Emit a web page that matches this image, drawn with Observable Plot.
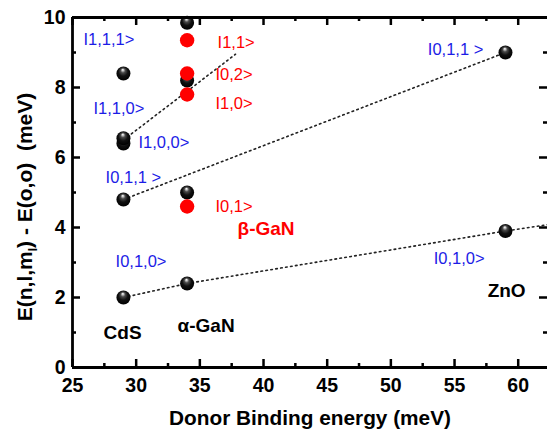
<!DOCTYPE html>
<html><head><meta charset="utf-8">
<script src="https://cdn.jsdelivr.net/npm/d3@7"></script>
<script src="https://cdn.jsdelivr.net/npm/@observablehq/plot@0.6"></script>
<style>body{margin:0;background:#fff;overflow:hidden;font-family:"Liberation Sans",Arial,sans-serif}</style>
</head><body><div id="chart"></div>
<script>
// Data (meV)
const blackX = [29, 29, 29, 29, 29, 34, 34, 34, 34, 59, 59];
const blackY = [2.0, 4.8, 6.4, 6.55, 8.4, 2.4, 5.0, 8.2, 9.85, 3.9, 9.0];
const redX = [34, 34, 34, 34];
const redY = [4.6, 7.8, 8.4, 9.35];

// dotted guide lines
const line1X = [29, 37.8], line1Y = [6.5, 8.95];
const line2X = [29, 59], line2Y = [4.8, 9.0];
const line3X = [29, 34, 59, 62.3], line3Y = [2.0, 2.4, 3.9, 4.08];

// state labels
const blueText = ["I1,1,1>", "I1,1,0>", "I1,0,0>", "I0,1,1 >", "I0,1,0>", "I0,1,1 >", "I0,1,0>"];
const blueX = [25.86, 26.65, 30.18, 27.6, 28.38, 52.9, 53.36];
const blueY = [9.37, 7.4, 6.43, 5.43, 3.03, 9.09, 3.11];
const redText = ["I1,1>", "I0,2>", "I1,0>", "I0,1>"];
const redLX = [36.39, 36.23, 36.23, 36.23];
const redLY = [9.29, 8.37, 7.54, 4.6];
const matText = ["CdS", "α-GaN", "ZnO"];
const matX = [27.44, 33.25, 57.6];
const matY = [1.0, 1.2, 2.2];
const betaText = ["β-GaN"], betaX = [37.96], betaY = [3.97];

// ticks
const xMajor = [25, 30, 35, 40, 45, 50, 55, 60];
const xMinor = [27.5, 32.5, 37.5, 42.5, 47.5, 52.5, 57.5];
const yMajor = [0, 2, 4, 6, 8, 10];
const yMinor = [1, 3, 5, 7, 9];

const xMax = 62.3, yMax = 10, xMin = 25, yMin = 0;
const pxX = (xMax - xMin) / 475, pxY = (yMax - yMin) / 350; // data units per pixel

const zip = (xs, ys, extra = {}) => xs.map((x, i) => ({x, y: ys[i], ...Object.fromEntries(Object.entries(extra).map(([k, v]) => [k, v[i]]))}));
const blacks = zip(blackX, blackY);
const reds = zip(redX, redY);
const l1 = zip(line1X, line1Y), l2 = zip(line2X, line2Y), l3 = zip(line3X, line3Y);
const blueL = zip(blueX, blueY, {t: blueText});
const redL = zip(redLX, redLY, {t: redText});
const matL = zip(matX, matY, {t: matText});
const betaL = zip(betaX, betaY, {t: betaText});

const dotted = {x: "x", y: "y", stroke: "#222", strokeWidth: 1.6, strokeDasharray: "1.6,3.4", strokeLinecap: "round"};
const tickW = 2.5;
const plot = Plot.plot({
  width: 547, height: 431,
  marginLeft: 72, marginRight: 0, marginTop: 17, marginBottom: 64,
  style: {fontFamily: "'Liberation Sans', Arial, sans-serif", background: "#fff"},
  x: {domain: [xMin, xMax]},
  y: {domain: [yMin, yMax]},
  marks: [
    Plot.line(l1, dotted),
    Plot.line(l2, dotted),
    Plot.line(l3, dotted),
    Plot.dot(blacks, {x: "x", y: "y", r: 7, fill: "url(#sphere)", stroke: "none"}),
    Plot.dot(reds, {x: "x", y: "y", r: 7.2, fill: "#ff0000", stroke: "none"}),
    Plot.text(blueL, {x: "x", y: "y", text: "t", fill: "#1c1ce6", fontSize: 16.5, textAnchor: "start"}),
    Plot.text(redL, {x: "x", y: "y", text: "t", fill: "#ff0000", fontSize: 16.5, textAnchor: "start"}),
    Plot.text(matL, {x: "x", y: "y", text: "t", fill: "#000", fontSize: 19, fontWeight: "bold", textAnchor: "start"}),
    Plot.text(betaL, {x: "x", y: "y", text: "t", fill: "#ff0000", fontSize: 19, fontWeight: "bold", textAnchor: "start"}),
    // inward ticks
    Plot.ruleX(xMajor, {x: d => d, y1: yMin, y2: yMin + 8 * pxY, strokeWidth: tickW}),
    Plot.ruleX(xMinor, {x: d => d, y1: yMin, y2: yMin + 4 * pxY, strokeWidth: tickW}),
    Plot.ruleX(xMajor, {x: d => d, y1: yMax, y2: yMax - 8 * pxY, strokeWidth: tickW}),
    Plot.ruleX(xMinor, {x: d => d, y1: yMax, y2: yMax - 4 * pxY, strokeWidth: tickW}),
    Plot.ruleY(yMajor, {y: d => d, x1: xMin, x2: xMin + 8 * pxX, strokeWidth: tickW}),
    Plot.ruleY(yMinor, {y: d => d, x1: xMin, x2: xMin + 4 * pxX, strokeWidth: tickW}),
    Plot.ruleY(yMajor, {y: d => d, x1: xMax, x2: xMax - 8 * pxX, strokeWidth: tickW}),
    Plot.ruleY(yMinor, {y: d => d, x1: xMax, x2: xMax - 4 * pxX, strokeWidth: tickW}),
    // frame lines
    Plot.ruleX([xMin], {strokeWidth: 2.8}),
    Plot.ruleY([yMin], {strokeWidth: 2.8}),
    Plot.ruleY([yMax], {strokeWidth: 2.8}),
    Plot.axisX({ticks: xMajor, tickSize: 0, tickPadding: 11, fontSize: 19.5, fontWeight: "bold", label: null}),
    Plot.axisY({ticks: yMajor, tickSize: 0, tickPadding: 7, fontSize: 19.5, fontWeight: "bold", label: null}),
    Plot.text(["Donor Binding energy (meV)"], {frameAnchor: "bottom", lineAnchor: "middle", dy: 51, fontSize: 20.8, fontWeight: "bold", fill: "#000"})
  ]
});
document.getElementById("chart").appendChild(plot);

// gradient for spheres
const svg = d3.select(plot);
const defs = svg.insert("defs", ":first-child");
const g = defs.append("radialGradient").attr("id", "sphere")
  .attr("cx", "0.5").attr("cy", "0.45").attr("r", "0.55").attr("fx", "0.45").attr("fy", "0.22");
[[0, "#ffffff"], [0.1, "#cfcfcf"], [0.3, "#4a4a4a"], [0.6, "#111111"], [1, "#000000"]]
  .forEach(([o, c]) => g.append("stop").attr("offset", o).attr("stop-color", c));

// y axis title with subscript
const yt = svg.append("text")
  .attr("transform", "translate(25,207) rotate(-90)")
  .attr("text-anchor", "middle").attr("dy", "0.35em")
  .attr("font-size", 21).attr("font-weight", "bold").attr("fill", "#000");
yt.append("tspan").text("E(n,l,m");
yt.append("tspan").attr("font-size", 12).attr("dy", 5).text("l");
yt.append("tspan").attr("dy", -5).text(") - E(o,o)  (meV)");
</script></body></html>
